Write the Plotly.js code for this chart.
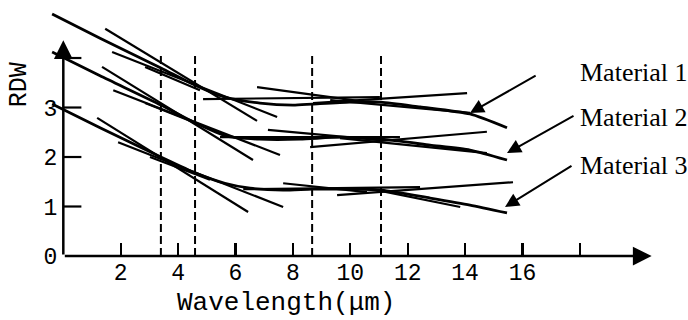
<!DOCTYPE html>
<html>
<head>
<meta charset="utf-8">
<script src="https://cdn.plot.ly/plotly-3.0.1.min.js"></script>
<style>html,body{margin:0;padding:0;background:#fff;}#chart{width:688px;height:320px;}</style>
</head>
<body>
<div id="chart"></div>
<script>
// ---- data ----
const xTickVals = [2, 4, 6, 8, 10, 12, 14, 16, 18];
const xTickText = ['2', '4', '6', '8', '10', '12', '14', '16', ''];
const yTickVals = [0, 1, 2, 3, 4];
const yTickText = ['0', '1', '2', '3', ''];
const dashedX = [3.40, 4.59, 8.67, 11.07];
const dashedTop = 4.12;

const materials = ['Material 1', 'Material 2', 'Material 3'];

// main curves
const m1X = [-0.39, 1.28, 3.40, 4.59, 5.63, 6.85, 8.00, 8.67, 9.99, 11.07, 12.43, 14.17, 15.46];
const m1Y = [4.89, 4.40, 3.80, 3.45, 3.21, 3.09, 3.05, 3.07, 3.11, 3.11, 3.01, 2.87, 2.59];
const m2X = [-0.39, 1.28, 3.40, 4.59, 5.70, 6.85, 8.25, 9.64, 11.10, 12.78, 14.17, 15.46];
const m2Y = [4.12, 3.64, 3.05, 2.69, 2.42, 2.36, 2.36, 2.40, 2.36, 2.24, 2.14, 1.94];
const m3X = [-0.39, 1.28, 3.40, 4.59, 5.63, 6.51, 7.66, 8.67, 9.99, 11.10, 12.78, 14.17, 15.46];
const m3Y = [3.07, 2.59, 2.00, 1.68, 1.47, 1.37, 1.33, 1.35, 1.35, 1.33, 1.17, 1.03, 0.87];

// tangent segments [x1, y1, x2, y2]
const m1Segs = [[1.46, 4.59, 6.75, 2.73], [1.70, 4.12, 7.45, 2.81], [2.85, 3.82, 4.76, 3.35],
                [4.87, 3.17, 11.03, 3.21], [6.75, 3.41, 10.33, 3.13], [8.70, 3.09, 14.07, 3.29],
                [9.30, 3.15, 14.17, 2.89]];
const m2Segs = [[1.35, 3.82, 6.61, 1.94], [1.74, 3.35, 7.55, 2.04], [2.85, 3.09, 4.76, 2.65],
                [5.46, 2.40, 11.73, 2.40], [7.13, 2.55, 11.03, 2.34], [8.60, 2.20, 14.76, 2.51],
                [9.64, 2.38, 14.76, 2.08]];
const m3Segs = [[1.18, 2.79, 6.44, 0.89], [1.91, 2.30, 7.66, 0.99], [3.02, 2.00, 5.11, 1.54],
                [6.27, 1.35, 12.43, 1.39], [7.66, 1.47, 10.58, 1.29], [9.54, 1.23, 15.67, 1.49],
                [10.58, 1.37, 13.83, 0.99]];

// label arrows: [tailX, tailY, headX, headY] and label anchor positions
const labelArrows = [[16.51, 3.66, 14.17, 2.89], [17.83, 2.85, 15.46, 2.08], [17.76, 1.84, 15.39, 0.99]];
const labelX = [17.94, 17.94, 17.94];
const labelY = [3.70, 2.79, 1.82];

const xAxisEnd = 20.5;
const yAxisEnd = 4.36;

// ---- style constants ----
const yTickLenData = 0.63; // inward y-tick length in x units (~18px)

// ---- build traces ----
function segTrace(segs, w) {
  const x = [], y = [];
  segs.forEach(s => { x.push(s[0], s[2], null); y.push(s[1], s[3], null); });
  return {x: x, y: y, mode: 'lines', type: 'scatter', line: {color: '#000', width: w}, showlegend: false, hoverinfo: 'skip'};
}
function mainTrace(x, y, name) {
  return {x: x, y: y, name: name, mode: 'lines', type: 'scatter',
          line: {color: '#000', width: 2.8, shape: 'spline', smoothing: 0.6}, showlegend: false, hoverinfo: 'skip'};
}
const traces = [];
dashedX.forEach(dx => traces.push({x: [dx, dx], y: [0, dashedTop], mode: 'lines', type: 'scatter',
  line: {color: '#000', width: 2, dash: '8px,4px'}, showlegend: false, hoverinfo: 'skip'}));
traces.push(mainTrace(m1X, m1Y, materials[0]));
traces.push(mainTrace(m2X, m2Y, materials[1]));
traces.push(mainTrace(m3X, m3Y, materials[2]));
traces.push(segTrace(m1Segs, 2.2));
traces.push(segTrace(m2Segs, 2.2));
traces.push(segTrace(m3Segs, 2.2));
// inward y ticks (from tick values)
traces.push(segTrace(yTickVals.slice(1).map(v => [0, v, yTickLenData, v]), 2.2));

const annotations = [];
// axis lines with arrowheads
annotations.push({x: 0, y: yAxisEnd, ax: 0, ay: 0, xref: 'x', yref: 'y', axref: 'x', ayref: 'y', text: '',
  showarrow: true, arrowhead: 2, arrowsize: 1.5, arrowwidth: 2.5, arrowcolor: '#000', standoff: 0});
annotations.push({x: xAxisEnd, y: 0, ax: 0, ay: 0, xref: 'x', yref: 'y', axref: 'x', ayref: 'y', text: '',
  showarrow: true, arrowhead: 2, arrowsize: 1.5, arrowwidth: 2.5, arrowcolor: '#000', standoff: 0});
// label arrows and labels
labelArrows.forEach((a, i) => {
  annotations.push({x: a[2], y: a[3], ax: a[0], ay: a[1], xref: 'x', yref: 'y', axref: 'x', ayref: 'y', text: '',
    showarrow: true, arrowhead: 2, arrowsize: 1.4, arrowwidth: 2, arrowcolor: '#000', standoff: 0});
  annotations.push({x: labelX[i], y: labelY[i], xref: 'x', yref: 'y', text: materials[i], showarrow: false,
    xanchor: 'left', yanchor: 'middle', font: {family: 'Liberation Serif', size: 26, color: '#000'}});
});
// axis titles
annotations.push({x: -1.54, y: 3.45, xref: 'x', yref: 'y', text: 'RDW', textangle: -90, showarrow: false,
  xanchor: 'center', yanchor: 'middle', font: {family: 'Liberation Mono', size: 25, color: '#000'}});
annotations.push({x: 3.89, y: -0.95, xref: 'x', yref: 'y', text: 'Wavelength(μm)', showarrow: false,
  xanchor: 'left', yanchor: 'middle', font: {family: 'Liberation Mono', size: 26, color: '#000'}});

const layout = {
  width: 688, height: 320,
  margin: {l: 0, r: 0, t: 0, b: 0},
  paper_bgcolor: '#fff', plot_bgcolor: '#fff',
  showlegend: false,
  xaxis: {range: [-2.206, 21.767], anchor: 'free', position: 0.2, showgrid: false, zeroline: false, showline: false,
    tickmode: 'array', tickvals: xTickVals, ticktext: xTickText, ticks: 'inside', ticklen: 13, tickwidth: 2.2,
    tickcolor: '#000', tickfont: {family: 'Liberation Mono', size: 23, color: '#000'}},
  yaxis: {range: [-1.293, 5.172], anchor: 'free', position: 0.092, side: 'left', showgrid: false, zeroline: false,
    showline: false, tickmode: 'array', tickvals: yTickVals, ticktext: yTickText, ticks: '',
    ticklabelstandoff: 6, tickfont: {family: 'Liberation Mono', size: 23, color: '#000'}},
  annotations: annotations
};
Plotly.newPlot('chart', traces, layout, {staticPlot: true, displayModeBar: false});
</script>
</body>
</html>
